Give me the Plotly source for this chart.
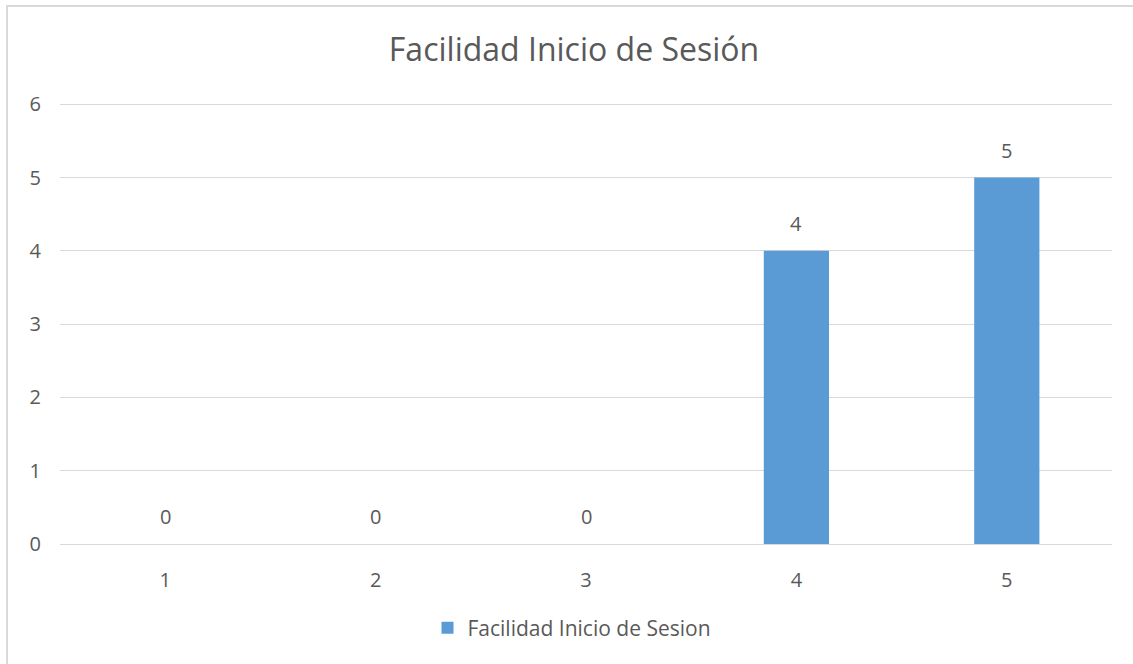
import plotly.graph_objects as go

categories = ["1", "2", "3", "4", "5"]
values = [0, 0, 0, 4, 5]
series_name = "Facilidad Inicio de Sesion"
title_text = "Facilidad Inicio de Sesión"
y_ticks = [0, 1, 2, 3, 4, 5, 6]

W, H = 1133, 664
L, R, T, B = 60, 21, 102, 120
plot_w = W - L - R
plot_h = H - T - B
y_top = 6.03

font_family = "Open Sans, DejaVu Sans, sans-serif"
text_color = "#595959"
grid_color = "#D9D9D9"
bar_color = "#5B9BD5"

fig = go.Figure()
fig.add_trace(go.Bar(
    x=categories, y=values, name=series_name,
    marker=dict(color=bar_color, line=dict(width=0)),
    showlegend=True,
))

for i, v in enumerate(values):
    fig.add_annotation(x=i, y=v, text=str(v), showarrow=False,
                       yanchor="bottom", yshift=12,
                       font=dict(family=font_family, size=20, color=text_color))

fig.update_layout(
    width=W, height=H,
    margin=dict(l=L, r=R, t=T, b=B),
    paper_bgcolor="white", plot_bgcolor="white",
    bargap=0.69,
    title=dict(text=title_text, x=574 / W, xanchor="center", xref="container",
               y=1 - 50 / H, yanchor="middle", yref="container",
               font=dict(family=font_family, size=32, color=text_color)),
    font=dict(family=font_family, size=20, color=text_color),
    legend=dict(orientation="h", x=0.5 - 14 / plot_w, xanchor="center",
                y=(plot_h - (628 - T)) / plot_h, yanchor="middle", itemwidth=30,
                font=dict(family=font_family, size=21, color=text_color),
                bgcolor="rgba(0,0,0,0)"),
    xaxis=dict(type="category", range=[-0.5, len(categories) - 0.5],
               showgrid=False, zeroline=False, showline=True,
               linecolor=grid_color, linewidth=1, ticks="", ticklabelstandoff=18,
               tickfont=dict(family=font_family, size=20, color=text_color)),
    yaxis=dict(range=[0, y_top], tickvals=y_ticks, showgrid=True, gridcolor=grid_color,
               gridwidth=1, zeroline=True, zerolinecolor=grid_color, zerolinewidth=1,
               showline=False, ticks="", ticklabelstandoff=18,
               tickfont=dict(family=font_family, size=20, color=text_color)),
)

# chart border (top and left edges visible; extends past image right/bottom)
fig.add_shape(type="rect", xref="paper", yref="paper",
              x0=(7 - L) / plot_w, x1=(W + 20 - L) / plot_w,
              y0=-(H + 20 - T - plot_h) / plot_h, y1=1 + (T - 6) / plot_h,
              line=dict(color=grid_color, width=2), fillcolor="rgba(0,0,0,0)", layer="below")

fig.write_html("out.html")
